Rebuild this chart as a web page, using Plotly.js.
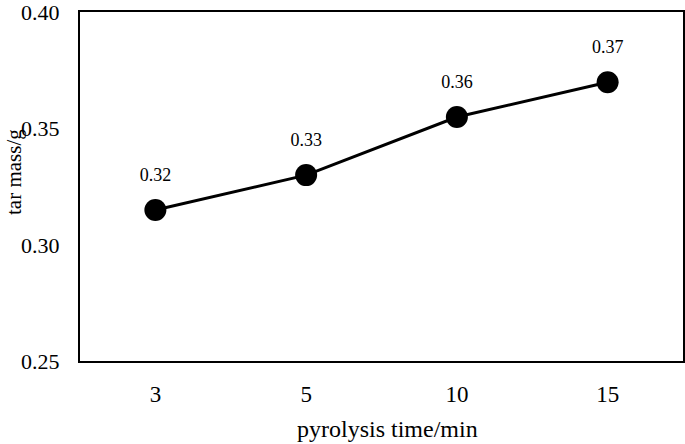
<!DOCTYPE html>
<html>
<head>
<meta charset="utf-8">
<script src="https://cdn.plot.ly/plotly-3.0.1.min.js"></script>
<style>html,body{margin:0;padding:0;background:#fff;}#chart{width:685px;height:444px;}</style>
</head>
<body>
<div id="chart"></div>
<script>
var categories = ['3', '5', '10', '15'];
var tarMass = [0.315, 0.330, 0.355, 0.370];
var dataLabels = ['0.32', '0.33', '0.36', '0.37'];
var yTicks = [0.25, 0.30, 0.35, 0.40];
var yTickLabels = ['0.25', '0.30', '0.35', '0.40'];
var xTitle = 'pyrolysis time/min';
var yTitle = 'tar mass/g';

var font = "'Liberation Serif', 'Times New Roman', serif";

var trace = {
  x: categories,
  y: tarMass,
  type: 'scatter',
  mode: 'lines+markers',
  line: {color: '#000', width: 3},
  marker: {color: '#000', size: 22},
  hoverinfo: 'none'
};

var labelTrace = {
  x: categories,
  y: tarMass,
  type: 'scatter',
  mode: 'markers+text',
  text: dataLabels,
  textposition: 'top center',
  textfont: {family: font, size: 18, color: '#000'},
  marker: {color: 'rgba(0,0,0,0)', size: 38},
  hoverinfo: 'none'
};

var layout = {
  width: 685,
  height: 444,
  margin: {l: 80, r: 2, t: 12, b: 83},
  paper_bgcolor: '#fff',
  plot_bgcolor: '#fff',
  showlegend: false,
  font: {family: font, color: '#000'},
  xaxis: {
    type: 'category',
    range: [-0.5, 3.5],
    showline: true, mirror: true, linecolor: '#000', linewidth: 2,
    showgrid: false, zeroline: false, ticks: '',
    ticklabelstandoff: 11,
    tickfont: {family: font, size: 23, color: '#000'},
    automargin: false
  },
  yaxis: {
    range: [0.25, 0.4002],
    tickvals: yTicks,
    ticktext: yTickLabels,
    showline: true, mirror: true, linecolor: '#000', linewidth: 2,
    showgrid: false, zeroline: false, ticks: '',
    ticklabelstandoff: 14,
    ticklabeloverflow: 'allow',
    tickfont: {family: font, size: 22, color: '#000'},
    automargin: false
  },
  annotations: [
    {text: xTitle, xref: 'paper', yref: 'paper', x: (387 - 80) / 603, y: -(429 - 361) / 349,
     xanchor: 'center', yanchor: 'middle', showarrow: false,
     font: {family: font, size: 24, color: '#000'}},
    {text: yTitle, xref: 'paper', yref: 'paper', x: (14 - 80) / 603, y: (361 - 172) / 349,
     xanchor: 'center', yanchor: 'middle', showarrow: false, textangle: -90,
     font: {family: font, size: 21, color: '#000'}}
  ]
};

Plotly.newPlot('chart', [trace, labelTrace], layout, {staticPlot: true});
</script>
</body>
</html>
